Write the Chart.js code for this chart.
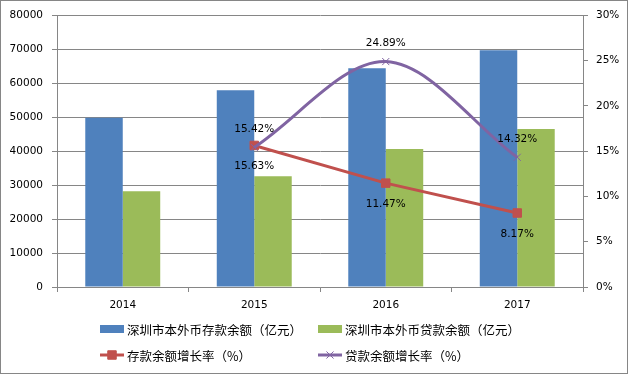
<!DOCTYPE html>
<html>
<head>
<meta charset="utf-8">
<script src="https://cdn.jsdelivr.net/npm/chart.js@4/dist/chart.umd.min.js"></script>
<style>
	body { margin: 0; background: #fff; }
	#wrap { width: 628px; height: 374px; }
</style>
</head>
<body>
<div id="wrap"><canvas id="c" width="628" height="374"></canvas></div>
<script>
const years = ['2014', '2015', '2016', '2017']
const deposits = [49800, 57900, 64400, 69700]
const loans = [28200, 32600, 40600, 46500]
const depositGrowth = [null, 15.63, 11.47, 8.17]
const loanGrowth = [null, 15.42, 24.89, 14.32]
const seriesNames = ['深圳市本外币存款余额（亿元）', '深圳市本外币贷款余额（亿元）', '存款余额增长率（%）', '贷款余额增长率（%）']

const gridColor = '#868686'
const tickFont = { family: 'DejaVu Sans', size: 10.5 }

// data labels: red below the point, purple above
const pointLabels = {
	id: 'pointLabels',
	afterDatasetsDraw(chart) {
		const ctx = chart.ctx
		ctx.save()
		ctx.font = '10.5px "DejaVu Sans"'
		ctx.fillStyle = '#000'
		ctx.textAlign = 'center'
		ctx.textBaseline = 'middle'
		;[2, 3].forEach(i => {
			const ds = chart.data.datasets[i]
			chart.getDatasetMeta(i).data.forEach((pt, j) => {
				if (ds.data[j] == null) return
				const dy = i === 2 ? 21 : -18
				ctx.fillText(ds.data[j].toFixed(2) + '%', pt.x, pt.y + dy)
			})
		})
		ctx.restore()
	}
}

// legend in two aligned columns, plus the outer frame
const frameLegend = {
	id: 'frameLegend',
	afterDraw(chart) {
		const ctx = chart.ctx
		const ds = chart.data.datasets
		ctx.save()
		ctx.strokeStyle = gridColor
		ctx.lineWidth = 1
		ctx.strokeRect(0.5, 0.5, 627, 373)

		const cols = [100, 318]
		const rows = [329, 355]
		ctx.font = '12.5px "Noto Sans CJK SC"'
		ctx.textBaseline = 'middle'
		ctx.textAlign = 'left'
		ds.forEach((d, i) => {
			const x = cols[i % 2]
			const y = rows[Math.floor(i / 2)]
			if (d.type === 'bar') {
				ctx.fillStyle = d.backgroundColor
				ctx.fillRect(x, y - 4, 24, 8)
			} else {
				ctx.strokeStyle = d.borderColor
				ctx.fillStyle = d.borderColor
				ctx.lineWidth = 3
				ctx.beginPath()
				ctx.moveTo(x, y)
				ctx.lineTo(x + 24, y)
				ctx.stroke()
				ctx.lineWidth = d.pointBorderWidth
				Chart.helpers.drawPoint(ctx, {
					pointStyle: d.pointStyle,
					radius: d.pointRadius,
					borderWidth: d.pointBorderWidth
				}, x + 12, y)
			}
			ctx.fillStyle = '#000'
			ctx.fillText(d.label, x + 27, y + 1)
		})
		ctx.restore()
	}
}

const whiteBg = {
	id: 'whiteBg',
	beforeDraw(chart) {
		const ctx = chart.ctx
		ctx.save()
		ctx.fillStyle = '#fff'
		ctx.fillRect(0, 0, chart.width, chart.height)
		ctx.restore()
	}
}

const ctx = document.getElementById('c')
new Chart(ctx, {
	data: {
		labels: years,
		datasets: [
			{
				type: 'bar', label: seriesNames[0], data: deposits,
				backgroundColor: '#4F81BD', yAxisID: 'y', order: 2,
				barPercentage: 1, categoryPercentage: 0.57
			},
			{
				type: 'bar', label: seriesNames[1], data: loans,
				backgroundColor: '#9BBB59', yAxisID: 'y', order: 2,
				barPercentage: 1, categoryPercentage: 0.57
			},
			{
				type: 'line', label: seriesNames[2], data: depositGrowth,
				borderColor: '#C0504D', backgroundColor: '#C0504D', borderWidth: 3,
				pointStyle: 'rect', pointRadius: 6, pointBorderWidth: 1,
				pointBackgroundColor: '#C0504D', pointBorderColor: '#C0504D',
				tension: 0, yAxisID: 'y1', order: 1
			},
			{
				type: 'line', label: seriesNames[3], data: loanGrowth,
				borderColor: '#8064A2', backgroundColor: '#8064A2', borderWidth: 3,
				pointStyle: 'crossRot', pointRadius: 5, pointBorderWidth: 1,
				pointBackgroundColor: '#8064A2', pointBorderColor: '#8064A2',
				tension: 0.33, yAxisID: 'y1', order: 0
			}
		]
	},
	options: {
		responsive: false,
		animation: false,
		layout: { padding: { top: 15, left: 0, right: 0, bottom: 0 } },
		plugins: { legend: { display: false }, tooltip: { enabled: false } },
		scales: {
			x: {
				grid: { offset: true, drawOnChartArea: false, color: gridColor, tickLength: 5 },
				border: { color: gridColor },
				ticks: { color: '#000', font: tickFont, padding: 7 },
				afterFit: s => { s.height = 87 }
			},
			y: {
				position: 'left', min: 0, max: 80000,
				grid: { color: gridColor, tickLength: 5 },
				border: { color: gridColor },
				ticks: { stepSize: 10000, color: '#000', font: tickFont, padding: 9, callback: v => String(v) },
				afterFit: s => { s.width = 57 }
			},
			y1: {
				position: 'right', min: 0, max: 30,
				grid: { drawOnChartArea: false, color: gridColor, tickLength: 5 },
				border: { color: gridColor },
				ticks: { stepSize: 5, color: '#000', font: tickFont, padding: 8, callback: v => v + '%' },
				afterFit: s => { s.width = 45 }
			}
		}
	},
	plugins: [whiteBg, pointLabels, frameLegend]
})
</script>
</body>
</html>
